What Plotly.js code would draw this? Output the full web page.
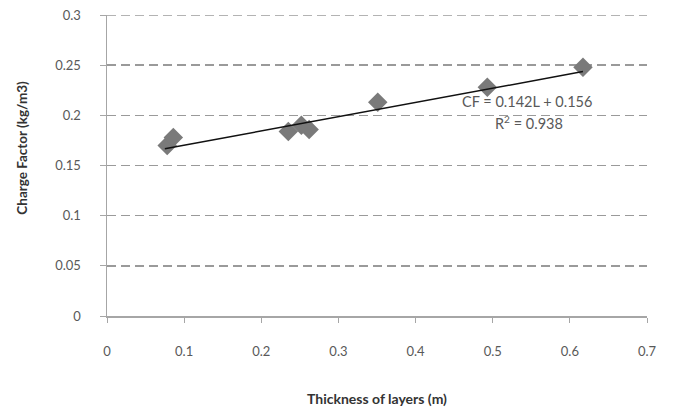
<!DOCTYPE html>
<html>
<head>
<meta charset="utf-8">
<script src="https://cdn.plot.ly/plotly-3.0.1.min.js"></script>
<style>html,body{margin:0;padding:0;background:#fff}#chart{width:673px;height:410px}</style>
</head>
<body>
<div id="chart"></div>
<script>
const thickness = [0.078, 0.086, 0.235, 0.252, 0.262, 0.351, 0.493, 0.617];
const chargeFactor = [0.170, 0.178, 0.184, 0.190, 0.186, 0.213, 0.228, 0.248];
const slope = 0.142;
const intercept = 0.156;
const equationText = "CF = 0.142L + 0.156";
const r2Text = "R<sup>2</sup> = 0.938";
const xTitle = "Thickness of layers (m)";
const yTitle = "Charge Factor (kg/m3)";
const xTicks = [0, 0.1, 0.2, 0.3, 0.4, 0.5, 0.6, 0.7];
const yTicks = [0, 0.05, 0.1, 0.15, 0.2, 0.25, 0.3];

const xMin = Math.min(...thickness), xMax = Math.max(...thickness);
const trendX = [xMin - 0.003, xMax];
const trendY = trendX.map(v => slope * v + intercept);
const yTop = Math.max(...yTicks);

const font = "Lato, 'Open Sans', sans-serif";
const data = [
  {x: thickness, y: chargeFactor, type: 'scatter', mode: 'markers',
   marker: {symbol: 'diamond', size: 15, color: '#7a7a7a'}, showlegend: false, hoverinfo: 'x+y'},
  {x: trendX, y: trendY, type: 'scatter', mode: 'lines',
   line: {color: '#111', width: 1.5}, showlegend: false}
];
const layout = {
  width: 673, height: 410,
  margin: {l: 107, r: 26, t: 15, b: 94},
  paper_bgcolor: '#fff', plot_bgcolor: '#fff',
  font: {family: font, color: '#595959', size: 13},
  xaxis: {
    range: [0, 0.7], tickvals: xTicks, ticktext: xTicks.map(String),
    showgrid: false, zeroline: false, showline: true, linecolor: '#a6a6a6', linewidth: 1.5,
    ticks: 'outside', ticklen: 5, tickcolor: '#a6a6a6', ticklabelstandoff: 18,
    tickfont: {size: 13, color: '#595959'},
    title: {text: xTitle, font: {size: 14, color: '#333', weight: 'bold'}, standoff: 36}
  },
  yaxis: {
    range: [0, yTop], tickvals: yTicks, ticktext: yTicks.map(String),
    showgrid: true, gridcolor: '#9a9a9a', gridwidth: 1.5, griddash: '9px,5px',
    zeroline: false, showline: true, linecolor: '#a6a6a6', linewidth: 1.5,
    ticks: 'outside', ticklen: 6, tickcolor: '#a6a6a6', ticklabelstandoff: 16,
    tickfont: {size: 13, color: '#595959'}
  },
  shapes: [
    {type: 'line', xref: 'paper', yref: 'y', x0: 0, x1: 1, y0: yTop, y1: yTop,
     line: {color: '#9a9a9a', width: 1.5, dash: '9px,5px'}, layer: 'below'}
  ],
  annotations: [
    {x: -0.157, y: 0.56, xref: 'paper', yref: 'paper', text: yTitle, textangle: -90, showarrow: false,
     xanchor: 'center', yanchor: 'middle',
     font: {size: 13.5, color: '#333', family: font, weight: 'bold'}},
    {x: 0.544, y: 0.2135, xref: 'x', yref: 'y', text: equationText, showarrow: false,
     font: {size: 14.5, color: '#595959', family: font}},
    {x: 0.547, y: 0.1925, xref: 'x', yref: 'y', text: r2Text, showarrow: false,
     font: {size: 14.5, color: '#595959', family: font}}
  ]
};
Plotly.newPlot('chart', data, layout, {displayModeBar: false, staticPlot: true});
</script>
</body>
</html>
